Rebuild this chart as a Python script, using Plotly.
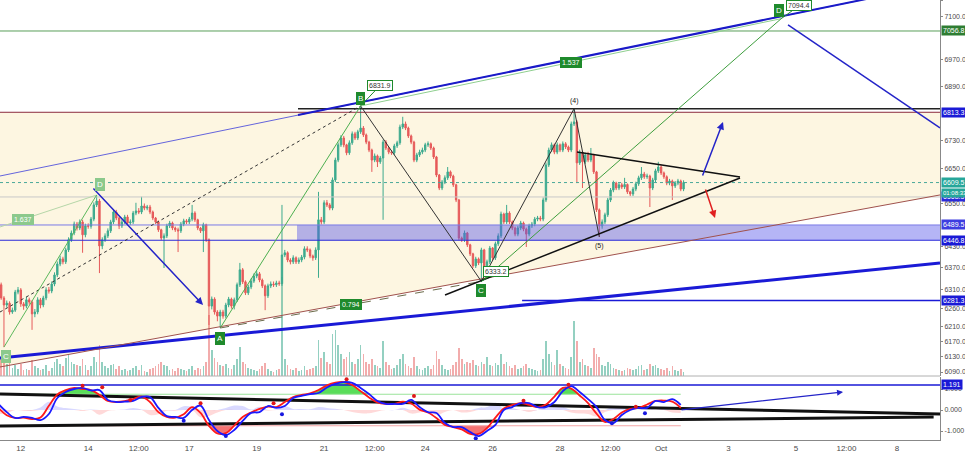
import math
import numpy as np
import pandas as pd
import plotly.graph_objects as go

FONT = "Liberation Sans, Arial, sans-serif"
UP, DOWN = "#3daa8e", "#e65a5a"
CREAM = "#fdf6e1"
DARK_GREEN = "#1f8a2c"
LIGHT_GREEN = "#8cc98c"
BLUE = "#1a1ad6"
AXIS_TXT = "#4a4a4a"

# ---------------- BTC/USD 2h candles, 11 Sep - 1 Oct 2018 ----------------
candle_start = "2018-09-11 08:00"

opens = [
    6283, 6324, 6288, 6269, 6274, 6250, 6255, 6304, 6310, 6272,
    6266, 6283, 6277, 6245, 6250, 6283, 6269, 6288, 6310, 6307,
    6326, 6351, 6381, 6395, 6387, 6420, 6448, 6467, 6492, 6481,
    6498, 6462, 6487, 6486, 6506, 6546, 6557, 6431, 6448, 6459,
    6473, 6498, 6526, 6509, 6487, 6498, 6512, 6495, 6498, 6523,
    6529, 6526, 6543, 6537, 6540, 6526, 6509, 6498, 6476, 6453,
    6459, 6487, 6495, 6481, 6476, 6473, 6492, 6501, 6498, 6506,
    6523, 6504, 6481, 6473, 6490, 6448, 6266, 6285, 6250, 6239,
    6250, 6239, 6269, 6285, 6266, 6283, 6324, 6365, 6332, 6302,
    6318, 6334, 6348, 6354, 6337, 6321, 6294, 6321, 6326, 6324,
    6329, 6327, 6406, 6412, 6392, 6387, 6398, 6387, 6392, 6400,
    6423, 6420, 6403, 6398, 6420, 6504, 6498, 6552, 6546, 6537,
    6617, 6674, 6718, 6738, 6718, 6695, 6724, 6750, 6738, 6756,
    6767, 6747, 6726, 6703, 6674, 6686, 6669, 6680, 6726, 6709,
    6697, 6695, 6715, 6724, 6770, 6779, 6767, 6744, 6726, 6674,
    6689, 6697, 6703, 6718, 6721, 6709, 6683, 6631, 6594, 6611,
    6623, 6640, 6628, 6603, 6560, 6453, 6448, 6467, 6434, 6409,
    6376, 6395, 6384, 6420, 6370, 6387, 6425, 6398, 6437, 6459,
    6520, 6498, 6523, 6498, 6481, 6464, 6481, 6495, 6478, 6464,
    6487, 6492, 6506, 6509, 6506, 6560, 6660, 6703, 6718, 6697,
    6718, 6703, 6721, 6712, 6703, 6779, 6785, 6666, 6697, 6669,
    6689, 6674, 6689, 6640, 6532, 6487, 6498, 6518, 6560, 6588,
    6608, 6594, 6603, 6597, 6604, 6583, 6577, 6591, 6606, 6623,
    6634, 6626, 6628, 6594, 6617, 6643, 6654, 6637, 6626, 6608,
    6614, 6600, 6608, 6614, 6591,
]
highs = [
    6332, 6330, 6293, 6281, 6279, 6262, 6310, 6318, 6315, 6277,
    6291, 6289, 6282, 6258, 6290, 6288, 6294, 6317, 6318, 6333,
    6358, 6388, 6404, 6401, 6426, 6455, 6474, 6499, 6498, 6505,
    6504, 6493, 6494, 6512, 6553, 6574, 6563, 6455, 6466, 6480,
    6504, 6533, 6532, 6513, 6505, 6518, 6518, 6505, 6529, 6552,
    6537, 6569, 6550, 6546, 6546, 6530, 6512, 6502, 6479, 6466,
    6493, 6501, 6499, 6485, 6482, 6498, 6507, 6506, 6512, 6546,
    6528, 6507, 6484, 6496, 6493, 6452, 6292, 6290, 6255, 6256,
    6256, 6275, 6291, 6289, 6289, 6330, 6384, 6370, 6336, 6324,
    6341, 6355, 6362, 6359, 6341, 6325, 6327, 6333, 6333, 6335,
    6335, 6546, 6420, 6416, 6397, 6405, 6402, 6399, 6406, 6430,
    6430, 6424, 6407, 6427, 6583, 6512, 6559, 6560, 6551, 6624,
    6681, 6725, 6746, 6744, 6721, 6731, 6757, 6756, 6762, 6831.9,
    6773, 6751, 6730, 6707, 6693, 6690, 6686, 6733, 6732, 6712,
    6703, 6721, 6730, 6777, 6800, 6786, 6771, 6748, 6730, 6695,
    6704, 6710, 6724, 6728, 6725, 6713, 6686, 6634, 6617, 6630,
    6654, 6644, 6632, 6606, 6563, 6457, 6474, 6470, 6437, 6412,
    6401, 6399, 6426, 6423, 6393, 6431, 6428, 6443, 6466, 6527,
    6524, 6546, 6528, 6502, 6485, 6487, 6501, 6499, 6482, 6493,
    6498, 6512, 6515, 6515, 6567, 6667, 6710, 6725, 6722, 6725,
    6722, 6728, 6726, 6716, 6786, 6824, 6790, 6704, 6701, 6695,
    6698, 6709, 6692, 6643, 6536, 6505, 6524, 6566, 6594, 6615,
    6612, 6609, 6609, 6623, 6607, 6586, 6597, 6612, 6629, 6654,
    6640, 6635, 6632, 6623, 6649, 6669, 6659, 6641, 6630, 6620,
    6618, 6614, 6620, 6618, 6616,
]
lows = [
    6279, 6283, 6156, 6262, 6243, 6245, 6250, 6298, 6264, 6256,
    6260, 6270, 6202, 6236, 6244, 6260, 6263, 6282, 6300, 6301,
    6320, 6345, 6375, 6380, 6381, 6414, 6442, 6461, 6474, 6475,
    6412, 6455, 6479, 6479, 6500, 6540, 6356, 6422, 6442, 6453,
    6467, 6492, 6503, 6478, 6481, 6492, 6489, 6489, 6492, 6517,
    6520, 6520, 6531, 6531, 6520, 6503, 6492, 6470, 6447, 6370,
    6453, 6481, 6475, 6470, 6414, 6467, 6486, 6492, 6492, 6500,
    6498, 6475, 6467, 6414, 6442, 6215, 6257, 6243, 6225, 6207,
    6232, 6233, 6263, 6259, 6257, 6277, 6318, 6326, 6296, 6296,
    6312, 6329, 6342, 6331, 6315, 6255, 6288, 6315, 6318, 6318,
    6321, 6321, 6400, 6386, 6380, 6381, 6381, 6381, 6386, 6394,
    6414, 6397, 6390, 6392, 6343, 6491, 6492, 6540, 6531, 6531,
    6611, 6668, 6712, 6711, 6688, 6689, 6718, 6732, 6732, 6750,
    6741, 6720, 6697, 6640, 6668, 6654, 6663, 6504, 6703, 6691,
    6689, 6689, 6709, 6718, 6764, 6761, 6738, 6720, 6668, 6668,
    6683, 6691, 6697, 6712, 6703, 6677, 6625, 6588, 6588, 6605,
    6617, 6622, 6597, 6554, 6447, 6442, 6442, 6428, 6403, 6370,
    6370, 6378, 6333.2, 6364, 6364, 6381, 6392, 6392, 6431, 6453,
    6492, 6492, 6492, 6475, 6458, 6458, 6475, 6472, 6428, 6458,
    6481, 6486, 6500, 6500, 6500, 6554, 6654, 6697, 6691, 6691,
    6697, 6697, 6706, 6697, 6697, 6773, 6608, 6660, 6594, 6663,
    6668, 6668, 6634, 6526, 6456, 6479, 6492, 6512, 6554, 6582,
    6588, 6588, 6591, 6591, 6577, 6571, 6571, 6585, 6600, 6617,
    6620, 6620, 6540, 6588, 6611, 6637, 6631, 6620, 6602, 6602,
    6560, 6594, 6602, 6585, 6585,
]
closes = [
    6324, 6288, 6269, 6274, 6250, 6255, 6304, 6310, 6272, 6266,
    6283, 6277, 6245, 6250, 6283, 6269, 6288, 6310, 6307, 6326,
    6351, 6381, 6395, 6387, 6420, 6448, 6467, 6492, 6481, 6498,
    6462, 6487, 6486, 6506, 6546, 6557, 6431, 6448, 6459, 6473,
    6498, 6526, 6509, 6487, 6498, 6512, 6495, 6498, 6523, 6529,
    6526, 6543, 6537, 6540, 6526, 6509, 6498, 6476, 6453, 6459,
    6487, 6495, 6481, 6476, 6473, 6492, 6501, 6498, 6506, 6523,
    6504, 6481, 6473, 6490, 6448, 6266, 6285, 6250, 6239, 6250,
    6239, 6269, 6285, 6266, 6283, 6324, 6365, 6332, 6302, 6318,
    6334, 6348, 6354, 6337, 6321, 6294, 6321, 6326, 6324, 6329,
    6327, 6406, 6412, 6392, 6387, 6398, 6387, 6392, 6400, 6423,
    6420, 6403, 6398, 6420, 6504, 6498, 6552, 6546, 6537, 6617,
    6674, 6718, 6738, 6718, 6695, 6724, 6750, 6738, 6756, 6767,
    6747, 6726, 6703, 6674, 6686, 6669, 6680, 6726, 6709, 6697,
    6695, 6715, 6724, 6770, 6779, 6767, 6744, 6726, 6674, 6689,
    6697, 6703, 6718, 6721, 6709, 6683, 6631, 6594, 6611, 6623,
    6640, 6628, 6603, 6560, 6453, 6448, 6467, 6434, 6409, 6376,
    6395, 6384, 6420, 6370, 6387, 6425, 6398, 6437, 6459, 6520,
    6498, 6523, 6498, 6481, 6464, 6481, 6495, 6478, 6464, 6487,
    6492, 6506, 6509, 6506, 6560, 6660, 6703, 6718, 6697, 6718,
    6703, 6721, 6712, 6703, 6779, 6785, 6666, 6697, 6669, 6689,
    6674, 6689, 6640, 6532, 6487, 6498, 6518, 6560, 6588, 6608,
    6594, 6603, 6597, 6604, 6583, 6577, 6591, 6606, 6623, 6634,
    6626, 6628, 6594, 6617, 6643, 6654, 6637, 6626, 6608, 6614,
    6600, 6608, 6614, 6591, 6609.5,
]
volumes = [
    320, 560, 760, 400, 480, 280, 360, 240, 400, 200,
    240, 200, 520, 320, 280, 200, 240, 360, 160, 280,
    480, 560, 400, 320, 600, 720, 480, 400, 360, 320,
    560, 360, 200, 320, 640, 480, 1040, 480, 320, 280,
    360, 400, 240, 320, 200, 240, 160, 200, 280, 320,
    200, 360, 160, 120, 240, 280, 320, 400, 480, 360,
    320, 200, 240, 160, 280, 240, 200, 160, 240, 320,
    200, 280, 240, 320, 480, 2040, 880, 600, 480, 360,
    320, 400, 280, 240, 360, 560, 960, 480, 400, 280,
    240, 200, 160, 240, 320, 440, 240, 160, 120, 200,
    240, 3280, 560, 360, 240, 200, 280, 160, 200, 320,
    200, 240, 280, 320, 1200, 600, 800, 480, 400, 1400,
    1520, 1040, 720, 560, 640, 800, 480, 400, 560, 1040,
    720, 480, 400, 560, 360, 320, 280, 1160, 480, 360,
    240, 280, 360, 560, 720, 400, 320, 280, 640, 320,
    240, 200, 280, 320, 240, 360, 840, 560, 360, 240,
    200, 240, 360, 480, 920, 560, 400, 480, 440, 520,
    360, 320, 480, 400, 640, 360, 320, 440, 360, 720,
    400, 480, 320, 280, 360, 240, 280, 320, 400, 280,
    240, 200, 160, 200, 560, 1160, 720, 480, 360, 880,
    400, 320, 280, 240, 640, 1840, 1160, 480, 560, 360,
    320, 280, 920, 720, 640, 360, 320, 480, 400, 280,
    240, 200, 160, 200, 280, 240, 200, 240, 320, 360,
    200, 240, 400, 320, 360, 280, 240, 200, 280, 160,
    320, 200, 160, 240, 120,
]
times = pd.date_range(candle_start, periods=len(closes), freq="2h")

# ---------------- oscillator (6h samples) ----------------
osc_fast = [
    0.10, -0.25, -0.38, -0.36, -0.43, -0.36, 0.20, 0.74, 0.95, 1.05,
    1.00, 0.95, 0.72, 0.43, 0.38, 0.42, 0.52, 0.64, 0.38, -0.10,
    -0.33, -0.36, -0.20, 0.14, -0.14, -0.76, -1.12, -1.10, -0.74, -0.33,
    -0.12, 0.05, 0.16, 0.14, 0.38, 0.62, 0.72, 0.79, 0.95, 1.17,
    1.30, 1.33, 1.19, 0.90, 0.60, 0.36, 0.29, 0.29, 0.40, 0.31,
    0.02, -0.12, -0.38, -0.71, -0.81, -0.93, -1.14, -1.14, -0.86, -0.36,
    0.07, 0.24, 0.33, 0.24, 0.14, 0.26, 0.64, 1.05, 1.02, 0.69,
    0.33, -0.17, -0.57, -0.43, -0.12, 0.05, 0.10, 0.26, 0.43, 0.45,
    0.40, 0.10,
]
osc_slow = [
    0.29, -0.10, -0.38, -0.33, -0.38, -0.48, -0.19, 0.57, 0.86, 1.00,
    1.05, 0.93, 0.95, 0.48, 0.38, 0.40, 0.43, 0.62, 0.62, 0.10,
    -0.29, -0.33, -0.38, 0.00, 0.21, -0.48, -1.00, -1.19, -0.95, -0.52,
    -0.14, -0.10, 0.19, 0.10, 0.19, 0.57, 0.67, 0.76, 0.81, 1.07,
    1.24, 1.33, 1.29, 1.05, 0.76, 0.43, 0.29, 0.29, 0.29, 0.48,
    0.14, -0.10, -0.14, -0.62, -0.81, -0.81, -1.05, -1.24, -1.00, -0.71,
    0.00, 0.14, 0.33, 0.33, 0.14, 0.14, 0.38, 0.90, 1.14, 0.86,
    0.52, 0.14, -0.48, -0.62, -0.24, 0.00, 0.10, 0.10, 0.43, 0.38,
    0.52, 0.24,
]
osc_times = pd.date_range(candle_start, periods=len(osc_slow), freq="6h")

top_dot_times = ["2018-09-13 20:00", "2018-09-14 10:00", "2018-09-15 06:00", "2018-09-17 08:00",
                 "2018-09-19 12:00", "2018-09-21 16:00", "2018-09-23 16:00", "2018-09-26 22:00",
                 "2018-09-28 06:00", "2018-09-30 06:00"]
top_dot_values = [1.16, 1.08, 0.48, 0.32, 0.32, 1.46, 0.67, 0.44, 1.20, 0.16]
bottom_dot_times = ["2018-09-16 20:00", "2018-09-18 02:00", "2018-09-19 18:00",
                    "2018-09-25 12:00", "2018-09-29 13:00", "2018-09-30 12:30"]
bottom_dot_values = [-0.51, -1.24, -0.20, -1.35, -0.63, -0.16]
osc_level = 0.75
osc_marker_level = 1.191

# ---------------- pattern pivots ----------------
pivot_names = ["C1", "D1", "A", "B", "C", "W4", "W5", "D"]
pivot_times = ["2018-09-11 12:00", "2018-09-14 06:00", "2018-09-17 22:00", "2018-09-22 02:00",
               "2018-09-25 16:00", "2018-09-28 10:00", "2018-09-29 04:00", "2018-10-04 13:30"]
pivot_prices = [6156, 6574, 6207, 6831.9, 6333.2, 6824, 6456, 7094.4]
P = {n: (pd.Timestamp(t), v) for n, t, v in zip(pivot_names, pivot_times, pivot_prices)}

# ---------------- horizontal levels ----------------
fib_level = 7056.8
channel_top = 6813.3
peak_level = 6824
last_price = 6609.5
prev_level = 6568.5
zone_top, zone_bottom = 6489.5, 6446.8
support_level = 6281.3
zone_start = pd.Timestamp("2018-09-20 04:42")
peak_line_start = pd.Timestamp("2018-09-20 05:25")
support_start = pd.Timestamp("2018-09-26 21:00")

# ---------------- view window / ticks ----------------
view_start = pd.Timestamp("2018-09-11 09:11")
view_end = pd.Timestamp("2018-10-09 06:37")
price_low, price_high = 6079.6, 7151.9
price_ticks = [7150, 7100, 6970, 6890, 6730, 6650, 6550, 6430, 6370, 6310, 6260, 6210, 6170, 6130, 6090]
date_ticks = ["2018-09-12", "2018-09-14", "2018-09-15 12:00", "2018-09-17", "2018-09-19", "2018-09-21",
              "2018-09-22 12:00", "2018-09-24", "2018-09-26", "2018-09-28", "2018-09-29 12:00",
              "2018-10-01", "2018-10-03", "2018-10-05", "2018-10-06 12:00", "2018-10-08"]
date_labels = ["12", "14", "12:00", "17", "19", "21", "12:00", "24", "26", "28", "12:00",
               "Oct", "3", "5", "12:00", "8"]

# trend line end values at the window edges
upper_channel = (6628.3, 7201.6)
upper_channel_mid = 6805.4
lower_channel = (6127.1, 6383.9)
floor_line = (6103.3, 6574.2)
fan_left = 6250.0
ab_left = 6483.9
tri_upper = (("2018-09-28 12:06", 6697.4), ("2018-10-03 08:12", 6625.5))
tri_lower = (("2018-09-24 14:07", 6296.2), ("2018-10-03 08:12", 6622.6))
drop_line = (("2018-10-04 18:23", 7075.1), (view_end, 6767.2))
arrows = [
    ("2018-09-14 02:42", 6597.0, "2018-09-17 09:46", 6269.0, "#2424c8"),
    ("2018-10-02 05:08", 6625.5, "2018-10-02 20:06", 6784.7, "#2424c8"),
    ("2018-10-02 07:16", 6594.1, "2018-10-02 14:24", 6509.2, "#e02020"),
]
osc_upper_trend = (0.762, -0.19)
osc_lower_trend = (-0.762, -0.333, "2018-10-09 02:04")
osc_arrow = ("2018-10-01 13:28", 0.0, "2018-10-06 09:34", 0.857)

MAIN_BOTTOM = 64 / 440
OSC_TOP = 63 / 440
PRICE_AX = "y4"   # drawing layer for candles and drawings (above volume)

fig = go.Figure()


def seg(ts, ps, color, width=1.0, dash="solid", yaxis=PRICE_AX):
    fig.add_trace(go.Scatter(x=[pd.Timestamp(t) for t in ts], y=list(ps), mode="lines",
                             line=dict(color=color, width=width, dash=dash),
                             yaxis=yaxis, hoverinfo="skip", showlegend=False))


def along(p0, p1, f):
    """Point at fraction f along a straight segment on the log price scale."""
    t0, v0 = pd.Timestamp(p0[0]), p0[1]
    t1, v1 = pd.Timestamp(p1[0]), p1[1]
    return t0 + (t1 - t0) * f, v0 * (v1 / v0) ** f


# cream channel background (base price axis, drawn first)
fig.add_trace(go.Scatter(
    x=[view_start, view_end, view_end, view_start, view_start],
    y=[channel_top, channel_top, floor_line[1], floor_line[0], channel_top],
    mode="lines", fill="toself", fillcolor=CREAM, line=dict(width=0),
    yaxis="y", hoverinfo="skip", showlegend=False))

# volume histogram (own axis)
vol_colors = ["rgba(61,170,142,0.55)" if c >= o else "rgba(230,90,90,0.5)" for o, c in zip(opens, closes)]
fig.add_trace(go.Bar(x=times, y=volumes, yaxis="y3", marker=dict(color=vol_colors, line=dict(width=0)),
                     width=2 * 3600 * 1000 * 0.6, hoverinfo="skip", showlegend=False))

# candles
fig.add_trace(go.Candlestick(
    x=times, open=opens, high=highs, low=lows, close=closes, yaxis=PRICE_AX,
    increasing=dict(line=dict(color=UP, width=1), fillcolor=UP),
    decreasing=dict(line=dict(color=DOWN, width=1), fillcolor=DOWN),
    whiskerwidth=0, hoverinfo="skip", showlegend=False))

# demand zone
fig.add_trace(go.Scatter(
    x=[zone_start, view_end, view_end, zone_start, zone_start],
    y=[zone_top, zone_top, zone_bottom, zone_bottom, zone_top],
    mode="lines", fill="toself", fillcolor="rgba(90,90,235,0.45)", line=dict(width=0),
    yaxis=PRICE_AX, hoverinfo="skip", showlegend=False))

# horizontal levels
seg([view_start, view_end], [fib_level] * 2, "#5a9e5a", 1)
seg([view_start, view_end], [channel_top] * 2, "#8b2a3c", 1)
seg([peak_line_start, view_end], [peak_level] * 2, "#222222", 1.5)
seg([view_start, view_end], [last_price] * 2, "#4aa89a", 1, "dot")
seg([view_start, view_end], [prev_level] * 2, "#c8c8c8", 1)
seg([view_start, view_end], [zone_top] * 2, "#7a7ae6", 1)
seg([view_start, view_end], [zone_bottom] * 2, "#2b2bd9", 1)
seg([support_start, view_end], [support_level] * 2, "#1a1ad6", 1.5)

# channel lines
seg([view_start, view_end], upper_channel, "#6464dc", 1)
seg([peak_line_start, view_end], [upper_channel_mid, upper_channel[1]], "#1a1ac8", 2)
seg([view_start, view_end], lower_channel, "#1a1ad6", 3)
seg([view_start, view_end], floor_line, "#a0524d", 1)

# harmonic pattern legs
seg([view_start, P["B"][0]], [fan_left, P["B"][1]], "#333333", 1, "dot")
seg([view_start, P["D1"][0]], [ab_left, P["D1"][1]], "#b5d6a8", 1)
seg([P["C1"][0], P["D1"][0]], [P["C1"][1], P["D1"][1]], "#5cb85c", 1)
seg([P["A"][0], P["B"][0]], [P["A"][1], P["B"][1]], "#4caf50", 1)
seg([P["A"][0], P["C"][0]], [P["A"][1], P["C"][1]], "#6b6b4a", 1, "dash")
seg([P["B"][0], P["C"][0]], [P["B"][1], P["C"][1]], "#333333", 1)
seg([P["B"][0], P["D"][0]], [P["B"][1], P["D"][1]], "#8fcf8f", 1)
seg([P["C"][0], P["D"][0]], [P["C"][1], P["D"][1]], "#3e9e3e", 1)
seg([P["C"][0], P["W4"][0]], [P["C"][1], P["W4"][1]], "#333333", 1)
seg([P["W4"][0], P["W5"][0]], [P["W4"][1], P["W5"][1]], "#333333", 1)

# triangle
seg([tri_upper[0][0], tri_upper[1][0]], [tri_upper[0][1], tri_upper[1][1]], "#111111", 1.5)
seg([tri_lower[0][0], tri_lower[1][0]], [tri_lower[0][1], tri_lower[1][1]], "#111111", 1.5)
seg([drop_line[0][0], drop_line[1][0]], [drop_line[0][1], drop_line[1][1]], "#2424c8", 1.5)

# ---------------- oscillator pane ----------------
fast = np.array(osc_fast)
slow = np.array(osc_slow)
hist = fast - slow
fig.add_trace(go.Scatter(x=osc_times, y=np.clip(hist, 0, None), yaxis="y2", mode="lines",
                         line=dict(width=0, shape="spline"), fill="tozeroy",
                         fillcolor="rgba(120,120,255,0.28)", hoverinfo="skip", showlegend=False))
fig.add_trace(go.Scatter(x=osc_times, y=np.clip(hist, None, 0), yaxis="y2", mode="lines",
                         line=dict(width=0, shape="spline"), fill="tozeroy",
                         fillcolor="rgba(255,120,120,0.28)", hoverinfo="skip", showlegend=False))
# overbought / oversold fills
fig.add_trace(go.Scatter(x=osc_times, y=[osc_level] * len(osc_times), yaxis="y2", mode="lines",
                         line=dict(width=0), hoverinfo="skip", showlegend=False))
fig.add_trace(go.Scatter(x=osc_times, y=np.maximum(fast, osc_level), yaxis="y2", mode="lines",
                         line=dict(width=0), fill="tonexty", fillcolor="rgba(60,215,60,0.85)",
                         hoverinfo="skip", showlegend=False))
fig.add_trace(go.Scatter(x=osc_times, y=[-osc_level] * len(osc_times), yaxis="y2", mode="lines",
                         line=dict(width=0), hoverinfo="skip", showlegend=False))
fig.add_trace(go.Scatter(x=osc_times, y=np.minimum(fast, -osc_level), yaxis="y2", mode="lines",
                         line=dict(width=0), fill="tonexty", fillcolor="rgba(245,90,90,0.85)",
                         hoverinfo="skip", showlegend=False))
seg([view_start, osc_times[-1]], [osc_level] * 2, "#9be39b", 1, yaxis="y2")
seg([view_start, osc_times[-1]], [-osc_level] * 2, "#f4a6a6", 1, yaxis="y2")
seg([view_start, view_end], [osc_marker_level] * 2, "#1a1ad6", 1.5, yaxis="y2")
seg([view_start, view_end], osc_upper_trend, "#111111", 3, yaxis="y2")
seg([view_start, osc_lower_trend[2]], osc_lower_trend[:2], "#111111", 3, yaxis="y2")
fig.add_trace(go.Scatter(x=osc_times, y=fast, yaxis="y2", mode="lines",
                         line=dict(color="#ff1a1a", width=1.8, shape="spline"),
                         hoverinfo="skip", showlegend=False))
fig.add_trace(go.Scatter(x=osc_times, y=slow, yaxis="y2", mode="lines",
                         line=dict(color="#1a1aff", width=1.8, shape="spline"),
                         hoverinfo="skip", showlegend=False))
fig.add_trace(go.Scatter(x=pd.to_datetime(top_dot_times), y=top_dot_values, yaxis="y2", mode="markers",
                         marker=dict(color="#e01818", size=4), hoverinfo="skip", showlegend=False))
fig.add_trace(go.Scatter(x=pd.to_datetime(bottom_dot_times), y=bottom_dot_values, yaxis="y2", mode="markers",
                         marker=dict(color="#1818e0", size=4), hoverinfo="skip", showlegend=False))

L = math.log10


def tag(t, p, text, bg, fg="white", yshift=0, xshift=0, size=8, border=None):
    fig.add_annotation(x=pd.Timestamp(t), y=L(p), xref="x", yref="y", text=text, showarrow=False,
                       font=dict(family=FONT, size=size, color=fg), bgcolor=bg,
                       bordercolor=border or bg, borderwidth=1, borderpad=1,
                       yshift=yshift, xshift=xshift)


def callout(name, dx, dy):
    t, p = P[name]
    fig.add_annotation(x=t, y=L(p), xref="x", yref="y", text=f"{p:.1f}", showarrow=True,
                       arrowhead=0, arrowcolor=DARK_GREEN, arrowwidth=1, ax=dx, ay=dy,
                       font=dict(family=FONT, size=7, color="#333333"), bgcolor="white",
                       bordercolor=DARK_GREEN, borderwidth=1, borderpad=1, standoff=0)


for t0, p0, t1, p1, col in arrows:
    fig.add_annotation(x=pd.Timestamp(t1), y=L(p1), ax=pd.Timestamp(t0), ay=L(p0),
                       xref="x", yref="y", axref="x", ayref="y", text="", showarrow=True,
                       arrowhead=2, arrowsize=1, arrowwidth=1.5, arrowcolor=col, standoff=0)
fig.add_annotation(x=pd.Timestamp(osc_arrow[2]), y=osc_arrow[3], ax=pd.Timestamp(osc_arrow[0]),
                   ay=osc_arrow[1], xref="x", yref="y2", axref="x", ayref="y2", text="",
                   showarrow=True, arrowhead=2, arrowsize=1, arrowwidth=1.2,
                   arrowcolor="#2424c8", standoff=0)

# pattern labels
t, p = along((view_start, ab_left), P["D1"], 0.24)
tag(t, p, "1.637", LIGHT_GREEN, size=7)
tag(*P["D1"], "D", LIGHT_GREEN, yshift=11, xshift=3)
tag(*P["C1"], "C", LIGHT_GREEN, yshift=-9, xshift=2)
t, p = along(P["A"], P["C"], 0.5)
tag(t, p, "0.794", DARK_GREEN, size=7)
t, p = along(P["B"], P["D"], 0.5)
tag(t, p, "1.537", DARK_GREEN, size=7)
tag(*P["A"], "A", DARK_GREEN, yshift=-10)
callout("B", 19, -20)
tag(*P["B"], "B", DARK_GREEN, yshift=7)
callout("C", 15, -10)
tag(*P["C"], "C", DARK_GREEN, yshift=-9)
callout("D", 18, -13)
tag(*P["D"], "D", DARK_GREEN, yshift=8, xshift=-2)
tag(*P["W4"], "(4)", "rgba(0,0,0,0)", fg="#222222", yshift=8, size=7)
tag(*P["W5"], "(5)", "rgba(0,0,0,0)", fg="#222222", yshift=-9, size=7)


# price-scale tags
def axis_tag(value, text, bg, yref="y", yshift=0, size=7):
    yv = L(value) if yref == "y" else value
    fig.add_annotation(x=1, xref="paper", xanchor="left", xshift=1, y=yv, yref=yref, text=text,
                       showarrow=False, font=dict(family=FONT, size=size, color="white"),
                       bgcolor=bg, borderpad=1, yshift=yshift)


axis_tag(fib_level, f"{fib_level:.1f}", "#2e7d32")
axis_tag(channel_top, f"{channel_top:.1f}", BLUE)
axis_tag(prev_level, f"{prev_level:.1f}", "#2b2bd9")
axis_tag(last_price, f"{last_price:.1f}", "#26a69a")
axis_tag(last_price, "01:08:33", "#26a69a", yshift=-10, size=6)
axis_tag(zone_top, f"{zone_top:.1f}", "#3d3de0")
axis_tag(zone_bottom, f"{zone_bottom:.1f}", BLUE)
axis_tag(support_level, f"{support_level:.1f}", BLUE)
axis_tag(osc_marker_level, f"{osc_marker_level:.3f}", BLUE, yref="y2")

tickfont = dict(family=FONT, size=7, color=AXIS_TXT)
log_range = [L(price_low), L(price_high)]
fig.update_layout(
    width=965, height=456,
    margin=dict(l=0, r=25, t=0, b=16, autoexpand=False),
    paper_bgcolor="white", plot_bgcolor="white",
    showlegend=False, hovermode=False, bargap=0,
    xaxis=dict(type="date", range=[view_start, view_end], anchor="y2", domain=[0, 1],
               showgrid=False, zeroline=False, tickmode="array", tickvals=date_ticks,
               ticktext=date_labels, tickfont=dict(family=FONT, size=8, color=AXIS_TXT),
               ticks="", showline=True, linecolor="#888888",
               rangeslider=dict(visible=False), automargin=False),
    yaxis=dict(domain=[MAIN_BOTTOM, 1], type="log", range=log_range,
               side="right", anchor="x", showgrid=False, zeroline=False, tickmode="array",
               tickvals=price_ticks, ticktext=[f"{v:.1f}" for v in price_ticks],
               tickfont=tickfont, ticks="outside", ticklen=2, tickcolor="#888888",
               showline=True, linecolor="#888888", automargin=False),
    yaxis3=dict(overlaying="y", range=[0, 12500], visible=False, showgrid=False),
    yaxis4=dict(overlaying="y", type="log", range=log_range, visible=False, showgrid=False),
    yaxis2=dict(domain=[0, OSC_TOP], range=[-1.4286, 1.5714], side="right", anchor="x",
                showgrid=False, zeroline=False, tickmode="array", tickvals=[1, 0, -1],
                ticktext=["1.000", "0.000", "-1.000"], tickfont=tickfont, ticks="outside",
                ticklen=2, tickcolor="#888888", showline=True, linecolor="#888888",
                automargin=False),
    shapes=[dict(type="line", xref="paper", yref="paper", x0=0, x1=1, y0=MAIN_BOTTOM, y1=MAIN_BOTTOM,
                 line=dict(color="#b0b0b0", width=1))],
)

fig.write_html("out.html")
